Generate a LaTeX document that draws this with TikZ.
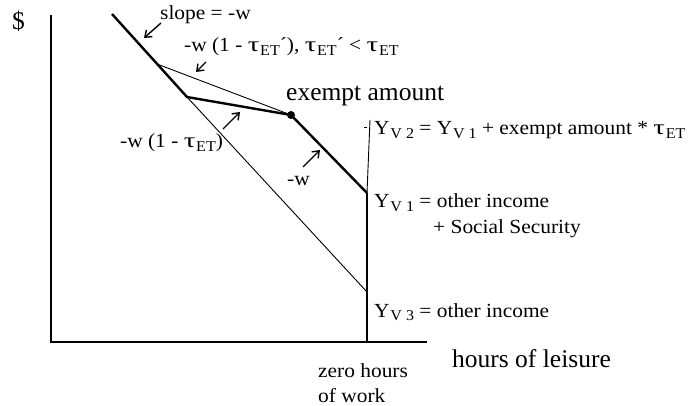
\documentclass[tikz,border=0pt]{standalone}
\usepackage{fontspec}
\usepackage{graphicx}
\setmainfont{Liberation Serif}
\newfontfamily\normfont[FakeStretch=1.07]{Liberation Serif}
\usetikzlibrary{arrows.meta}
\newcommand\sbx[1]{\kern0.8pt\raisebox{-0.35ex}{\fontsize{15}{15}\selectfont #1}}
\newcommand\tu{\scalebox{1.35}[1.05]{τ}}
\begin{document}
\begin{tikzpicture}[x=1pt,y=-1pt,
 thickline/.style={line width=2.4pt},
 thinline/.style={line width=0.9pt},
 axis/.style={line width=2pt},
 lbl/.style={inner sep=0pt,anchor=base west,font=\normfont\fontsize{20}{23}\selectfont},
 biglbl/.style={inner sep=0pt,anchor=base west,font=\fontsize{25.5}{28}\selectfont},
 pointer/.style={line width=1.4pt,-{Straight Barb[length=6pt,width=9pt]}}]
\useasboundingbox (0,0) rectangle (699,406);
% key points
\coordinate (O) at (51,342);
\coordinate (ytop) at (51,15);
\coordinate (xend) at (427,342);
\coordinate (start) at (112,14);
\coordinate (branch) at (157,64);
\coordinate (kink) at (187,97);
\coordinate (ex) at (291,115);
\coordinate (yv1) at (367,193);
\coordinate (yv3) at (367,292);
\coordinate (zb) at (367,342);
\coordinate (vtop) at (370,120);
\coordinate (tk1) at (364,127);
\coordinate (tk2) at (367,127);
% axes
\draw[axis] (ytop) -- (O) -- (xend);
\draw[line width=1.5pt] (zb) -- (yv1);
\draw[thinline] (yv1) -- (vtop);
\draw[thinline] (tk1) -- (tk2);
% budget lines
\draw[thickline,line join=miter] (start) -- (kink) -- (ex) -- (yv1);
\draw[thinline] (branch) -- (ex);
\draw[thinline] (kink) -- (yv3);
\fill (ex) circle (4pt);
% pointers
\coordinate (a1s) at (161,23); \coordinate (a1e) at (144,38);
\coordinate (a2s) at (206,62); \coordinate (a2e) at (196,72);
\coordinate (a3s) at (223,129); \coordinate (a3e) at (240,112);
\coordinate (a4s) at (303,167); \coordinate (a4e) at (320,150);
\draw[pointer] (a1s) -- (a1e);
\draw[pointer] (a2s) -- (a2e);
\draw[pointer] (a3s) -- (a3e);
\draw[pointer] (a4s) -- (a4e);
% labels
\node[biglbl] (dollar) at (12,30) {\$};
\node[lbl] (slope) at (160,20) {slope = -w};
\node[lbl] (tprime) at (184,52) {-w (1 - \tu\sbx{ET}´), \tu\sbx{ET}´ < \tu\sbx{ET}};
\node[biglbl] (exempt) at (286,101) {exempt amount};
\node[lbl] (yv2l) at (374,135) {Y\sbx{V 2} = Y\sbx{V 1} + exempt amount * \tu\sbx{ET}};
\node[lbl] (tet) at (120,148) {-w (1 - \tu\sbx{ET})};
\node[lbl] (wl) at (287,186) {-w};
\node[lbl] (yv1l) at (374,208) {Y\sbx{V 1} = other income};
\node[lbl] (ssl) at (433,234) {+ Social Security};
\node[lbl] (yv3l) at (374,317) {Y\sbx{V 3} = other income};
\node[biglbl] (hl) at (452,367) {hours of leisure};
\node[lbl] (z1) at (318,377) {zero hours};
\node[lbl] (z2) at (318,402) {of work};
\end{tikzpicture}
\end{document}
